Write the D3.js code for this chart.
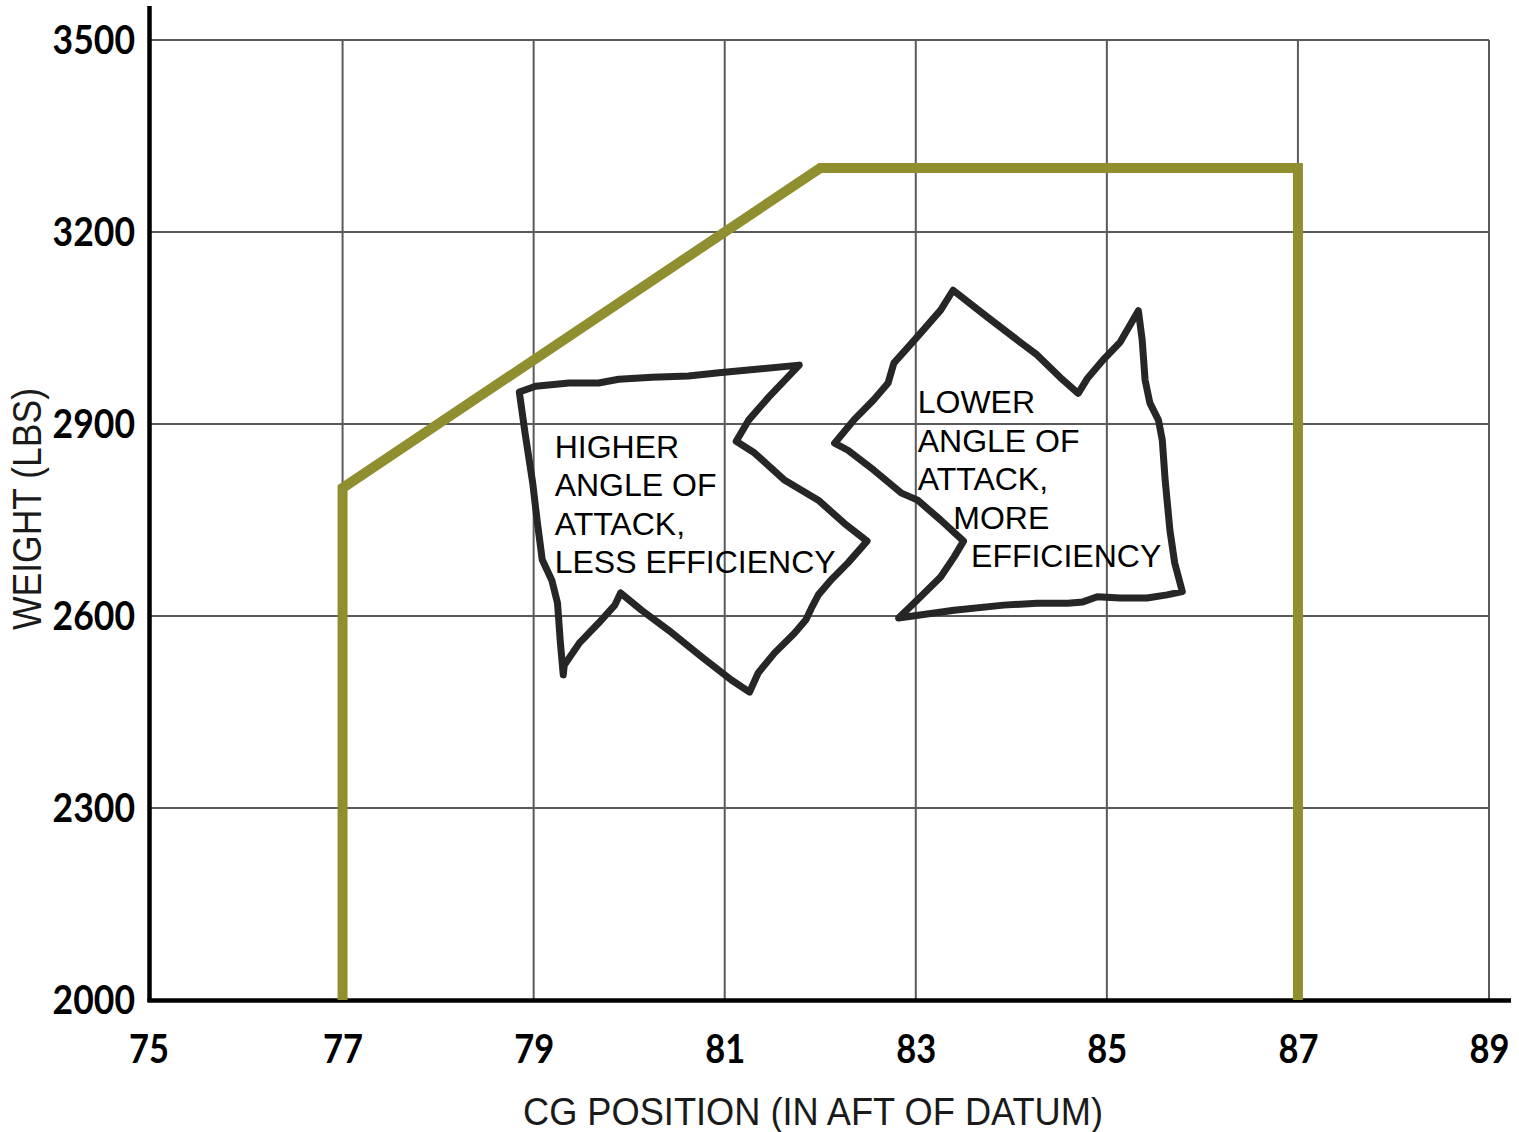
<!DOCTYPE html>
<html><head><meta charset="utf-8">
<script src="https://cdn.jsdelivr.net/npm/d3@7"></script>
<style>body{margin:0;background:#fff} svg{display:block}</style>
</head><body><svg id="c" width="1519" height="1132"></svg>
<script>
// ---- data ----
const xTicks = [75, 77, 79, 81, 83, 85, 87, 89];
const yTicks = [2000, 2300, 2600, 2900, 3200, 3500];
const envelopeCG = [77, 77, 82, 87, 87];
const envelopeWeight = [2000, 2800, 3300, 3300, 2000];

const blobHigherCG = [78.85,79.02,79.37,79.68,79.89,80.24,80.62,80.94,81.78,81.46,81.25,81.12,81.31,81.62,81.80,81.98,82.25,82.49,82.29,82.11,81.98,81.91,81.85,81.73,81.52,81.35,81.26,81.07,80.76,80.41,80.13,79.91,79.85,79.68,79.48,79.32,79.31,79.28,79.25,79.19,79.09,79.04,78.99,78.91];
const blobHigherWeight = [2950,2959,2964,2964,2970,2973,2975,2980,2992,2942,2906,2873,2855,2813,2797,2781,2745,2717,2683,2656,2633,2613,2594,2573,2542,2511,2481,2500,2536,2578,2609,2636,2617,2589,2558,2523,2508,2558,2620,2656,2688,2745,2808,2886];

const blobLowerCG = [83.39,83.75,84.10,84.27,84.51,84.70,84.80,84.96,85.14,85.33,85.37,85.40,85.45,85.54,85.58,85.61,85.66,85.71,85.79,85.63,85.42,85.14,84.90,84.75,84.59,84.27,83.92,83.40,82.82,83.05,83.26,83.40,83.50,83.26,83.02,82.85,82.56,82.29,82.15,82.35,82.56,82.71,82.77,82.92,83.05,83.26];
const blobLowerWeight = [3109,3067,3027,3008,2973,2948,2972,3000,3028,3077,3031,2969,2933,2906,2875,2813,2734,2683,2638,2633,2628,2628,2630,2622,2620,2620,2617,2609,2597,2630,2661,2692,2717,2750,2781,2792,2828,2859,2870,2906,2938,2964,2995,3020,3042,3078];

const noteHigherLines = ["HIGHER", "ANGLE OF", "ATTACK,", "LESS EFFICIENCY"];
const noteLowerLines = ["LOWER", "ANGLE OF", "ATTACK,", "    MORE", "      EFFICIENCY"];
const noteHigherAnchor = [79.22, 2847];
const noteLowerAnchor = [83.02, 2917];

const xTitle = "CG POSITION (IN AFT OF DATUM)";
const yTitle = "WEIGHT (LBS)";

// ---- drawing ----
const svg = d3.select("#c");
const x = d3.scaleLinear().domain([75, 89]).range([151.5, 1489]);
const y = d3.scaleLinear().domain([2000, 3500]).range([1000, 40]);

const gridColor = "#5a5a5a";
// vertical grid
svg.append("g").selectAll("line").data(xTicks.filter(d => d > 75)).join("line")
  .attr("x1", d => x(d)).attr("x2", d => x(d))
  .attr("y1", y(3500)).attr("y2", y(2000))
  .attr("stroke", gridColor).attr("stroke-width", 2);
// horizontal grid
svg.append("g").selectAll("line").data(yTicks.filter(d => d > 2000)).join("line")
  .attr("x1", 149).attr("x2", x(89))
  .attr("y1", d => y(d)).attr("y2", d => y(d))
  .attr("stroke", gridColor).attr("stroke-width", 2);

const tickFont = "Lato, 'DejaVu Sans', sans-serif";
// axes tick labels
const yAxis = svg.append("g").attr("transform", "translate(149,0)")
  .call(d3.axisLeft(y).tickValues(yTicks).tickSize(0).tickPadding(14).tickFormat(d3.format("d")));
yAxis.select(".domain").remove();
yAxis.selectAll("text")
  .attr("font-family", tickFont).attr("font-weight", 700)
  .attr("font-size", 41).attr("fill", "#000")
  .attr("textLength", d => String(d).length * 20.6).attr("lengthAdjust", "spacingAndGlyphs");

const xAxis = svg.append("g").attr("transform", `translate(0,${y(2000)})`)
  .call(d3.axisBottom(x).tickValues(xTicks).tickSize(0).tickPadding(34).tickFormat(d3.format("d")));
xAxis.select(".domain").remove();
xAxis.selectAll("text")
  .attr("font-family", tickFont).attr("font-weight", 700)
  .attr("font-size", 41).attr("fill", "#000")
  .attr("textLength", d => String(d).length * 20).attr("lengthAdjust", "spacingAndGlyphs");
xAxis.selectAll(".tick").filter(d => d === 75).select("text").attr("dx", -3);

// axis lines
svg.append("line").attr("x1", 149.5).attr("x2", 149.5).attr("y1", 6).attr("y2", y(2000) + 2)
  .attr("stroke", "#000").attr("stroke-width", 4.5);
svg.append("line").attr("x1", 147.5).attr("x2", 1511).attr("y1", y(2000) + 0.5).attr("y2", y(2000) + 0.5)
  .attr("stroke", "#000").attr("stroke-width", 4.5);

// envelope
const envPts = envelopeCG.map((c, i) => [c, envelopeWeight[i]]);
svg.append("path").attr("d", d3.line().x(d => x(d[0])).y(d => y(d[1]))(envPts))
  .attr("fill", "none").attr("stroke", "#8f8f30").attr("stroke-width", 10)
  .attr("stroke-linejoin", "miter");

// blobs
const blobLine = d3.line().x(d => x(d[0])).y(d => y(d[1])).curve(d3.curveLinearClosed);
[[blobHigherCG, blobHigherWeight], [blobLowerCG, blobLowerWeight]].forEach(([cg, w]) => {
  const pts = cg.map((c, i) => [c, w[i]]);
  svg.append("path").attr("d", blobLine(pts))
    .attr("fill", "none").attr("stroke", "#262626").attr("stroke-width", 7)
    .attr("stroke-linejoin", "round");
});

// notes
function note(lines, anchor) {
  const t = svg.append("text")
    .attr("font-family", "'Liberation Sans', Arial, sans-serif").attr("font-size", 32)
    .attr("fill", "#000").style("white-space", "pre");
  lines.forEach((l, i) => {
    t.append("tspan").attr("x", x(anchor[0])).attr("y", y(anchor[1]) + i * 38.5).text(l);
  });
}
note(noteHigherLines, noteHigherAnchor);
note(noteLowerLines, noteLowerAnchor);

// titles
svg.append("text").attr("x", 813).attr("y", 1125).attr("text-anchor", "middle")
  .attr("font-family", "'Liberation Sans', Arial, sans-serif").attr("font-size", 38)
  .attr("fill", "#1a1a1a").attr("textLength", 580).attr("lengthAdjust", "spacingAndGlyphs")
  .text(xTitle);
svg.append("text").attr("transform", "translate(41,509) rotate(-90)").attr("text-anchor", "middle")
  .attr("font-family", "'Liberation Sans', Arial, sans-serif").attr("font-size", 40)
  .attr("fill", "#1a1a1a").attr("textLength", 242).attr("lengthAdjust", "spacingAndGlyphs")
  .text(yTitle);
</script></body></html>
